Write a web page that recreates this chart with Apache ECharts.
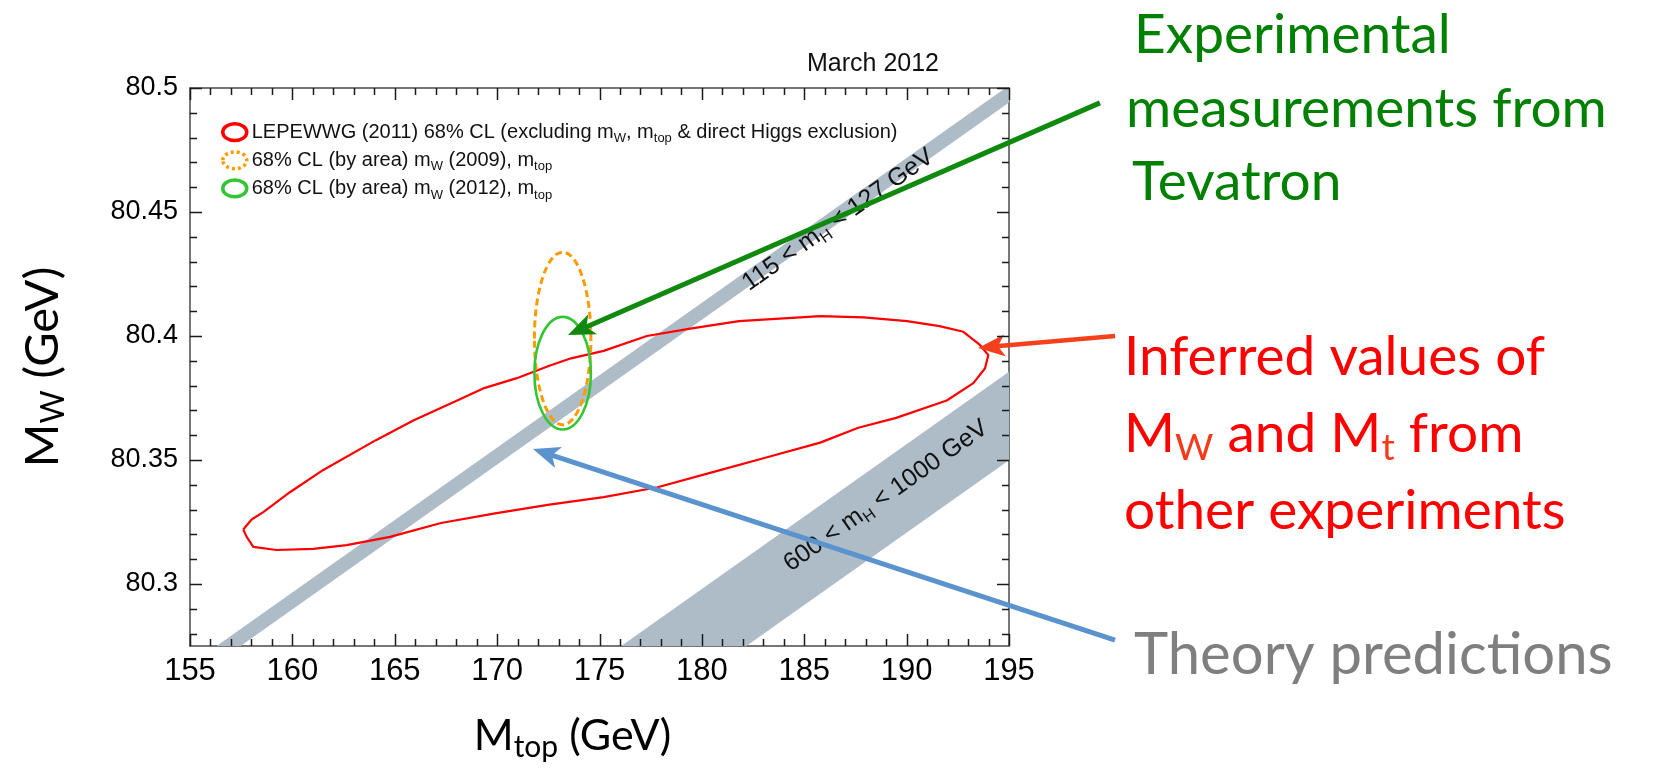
<!DOCTYPE html>
<html><head><meta charset="utf-8">
<script src="https://cdn.jsdelivr.net/npm/echarts@6/dist/echarts.min.js"></script>
<style>html,body{margin:0;padding:0;background:#fff}#c{position:absolute;left:0;top:0;width:1662px;height:770px}</style>
</head><body><div id="c"></div>
<script>
// ---------------- data ----------------
const X_MIN = 155, X_MAX = 195;
const Y_MIN = 80.275, Y_MAX = 80.5;
const xMajorTicks = [155, 160, 165, 170, 175, 180, 185, 190, 195];
const xMinorTicks = [156, 157, 158, 159, 161, 162, 163, 164, 166, 167, 168, 169, 171, 172, 173, 174,
                     176, 177, 178, 179, 181, 182, 183, 184, 186, 187, 188, 189, 191, 192, 193, 194];
const yMajorTicks = [80.3, 80.35, 80.4, 80.45, 80.5];
const yMinorTicks = [80.28, 80.29, 80.31, 80.32, 80.33, 80.34, 80.36, 80.37, 80.38, 80.39,
                     80.41, 80.42, 80.43, 80.44, 80.46, 80.47, 80.48, 80.49];

// LEPEWWG (2011) 68% CL contour (closed), mt and MW
const lepMt = [157.60,158.01,158.58,159.88,161.51,164.08,165.93,168.05,169.37,170.96,172.55,173.61,
               175.20,177.31,179.43,181.81,185.78,187.90,190.02,191.61,192.77,193.58,193.99,193.83,
               193.26,191.96,189.49,187.64,185.78,183.14,180.49,177.84,175.20,172.55,169.90,167.26,
               164.77,162.65,161.02,159.23,158.09,157.77,157.60];
const lepMw = [80.322,80.326,80.329,80.337,80.346,80.358,80.366,80.374,80.379,80.383,80.388,80.391,
               80.394,80.400,80.403,80.406,80.408,80.4075,80.406,80.404,80.4017,80.3964,80.3923,80.387,
               80.381,80.374,80.367,80.363,80.357,80.351,80.345,80.339,80.335,80.332,80.3285,80.3246,
               80.319,80.3157,80.3142,80.3137,80.315,80.319,80.322];

// direct measurements: centre and 68% (by area) half axes
const mtCentre = 173.2, mtHalf = 1.38;
const mw2009 = 80.399, mw2009Half = 0.0348;
const mw2012 = 80.385, mw2012Half = 0.0227;

// SM prediction bands: mt of the two band edges at MW = 80.275, common slope dMW/dmt
const bandLightHiggs = [156.30, 157.47];   // 115 < mH < 127 GeV
const bandHeavyHiggs = [176.06, 182.17];   // 600 < mH < 1000 GeV
const bandSlope = 0.00584;

const seriesNames = [
  'LEPEWWG (2011) 68% CL (excluding mW, mtop & direct Higgs exclusion)',
  '68% CL (by area) mW (2009), mtop',
  '68% CL (by area) mW (2012), mtop'
];
const legendRich = [
  '{a|LEPEWWG (2011) 68% CL (excluding m}{s|W}{a|, m}{s|top}{a| & direct Higgs exclusion)}',
  '{a|68% CL (by area) m}{s|W}{a| (2009), m}{s|top}',
  '{a|68% CL (by area) m}{s|W}{a| (2012), m}{s|top}'
];
const bandLabels = ['{a|115 < m}{s|H}{a| < 127 GeV}', '{a|600 < m}{s|H}{a| < 1000 GeV}'];
const bandLabelAt = [[186.65, 80.4468], [188.99, 80.3355]];

// annotation arrows: tail (mt, MW) -> tip (mt, MW)
const arrowGreen = [199.44, 80.494, 173.46, 80.4004];
const arrowRed   = [200.18, 80.400, 193.49, 80.3952];
const arrowBlue  = [200.18, 80.2774, 171.75, 80.3544];

// ---------------- chart ----------------
const HELV = 'Liberation Sans, Arial, Helvetica, sans-serif';
const CAL = 'Lato, Open Sans, sans-serif';
const BAND_COLOR = '#adbcc7';
const FRAME = '#4a4a4a';
const TICK = '#1a1a1a';
const arrowStyles = [{color: '#0f8a0f', width: 5}, {color: '#f5401c', width: 4.5}, {color: '#5b93cf', width: 5}];

const yAxes = [
  {
    type: 'value', min: Y_MIN, max: Y_MAX, position: 'left',
    splitLine: {show: false}, axisTick: {show: false},
    axisLine: {show: true, lineStyle: {color: FRAME, width: 1.5}},
    axisLabel: {show: true, customValues: yMajorTicks, formatter: v => String(v),
                fontSize: 27, fontFamily: HELV, color: '#000', margin: 12},
    name: '{a|M}{s|W}{a| (GeV)}', nameLocation: 'middle', nameRotate: 90, nameGap: 120,
    nameTextStyle: {color: '#000', fontFamily: CAL, rich: {
      a: {fontSize: 47, lineHeight: 54, fontFamily: CAL, color: '#000'},
      s: {fontSize: 32, lineHeight: 18, verticalAlign: 'bottom', fontFamily: CAL, color: '#000'}
    }}
  },
  {
    type: 'value', min: Y_MIN, max: Y_MAX, position: 'right',
    splitLine: {show: false}, axisTick: {show: false}, axisLabel: {show: false},
    axisLine: {show: true, lineStyle: {color: FRAME, width: 1.5}}
  }
];
const xAxes = [
  {
    type: 'value', min: X_MIN, max: X_MAX, interval: 5, position: 'bottom',
    splitLine: {show: false}, axisTick: {show: false},
    axisLine: {show: true, lineStyle: {color: FRAME, width: 1.5}},
    axisLabel: {show: true, fontSize: 31, fontFamily: HELV, color: '#000', margin: 10},
    name: '{a|M}{s|top}{a| (GeV)}', nameLocation: 'middle', nameGap: 64,
    nameTextStyle: {color: '#000', fontFamily: CAL, padding: [0, 54, 0, 0], rich: {
      a: {fontSize: 43, lineHeight: 52, fontFamily: CAL, color: '#000'},
      s: {fontSize: 30, lineHeight: 18, verticalAlign: 'bottom', fontFamily: CAL, color: '#000'}
    }}
  },
  {
    type: 'value', min: X_MIN, max: X_MAX, interval: 5, position: 'top',
    splitLine: {show: false}, axisTick: {show: false}, axisLabel: {show: false},
    axisLine: {show: true, lineStyle: {color: FRAME, width: 1.5}}
  }
];

// inside ticks on all four sides, placed through the axis scales
function renderTicks(params, api) {
  const cs = params.coordSys;
  const L = cs.x, R = cs.x + cs.width, T = cs.y, B = cs.y + cs.height;
  const ch = [];
  const add = (x1, y1, x2, y2) => ch.push({type: 'line', shape: {x1, y1, x2, y2},
                                           style: {stroke: TICK, lineWidth: 1.5}});
  const xTick = (v, len) => { const x = Math.round(api.coord([v, Y_MIN])[0]) + 0.5; add(x, B, x, B - len); add(x, T, x, T + len); };
  const yTick = (v, len) => { const y = Math.round(api.coord([X_MIN, v])[1]) + 0.5; add(L, y, L + len, y); add(R, y, R - len, y); };
  xMajorTicks.forEach(v => xTick(v, 12));
  xMinorTicks.forEach(v => xTick(v, 7));
  yMajorTicks.forEach(v => yTick(v, 12));
  yMinorTicks.forEach(v => yTick(v, 7));
  return {type: 'group', children: ch};
}

const bands = [bandLightHiggs, bandHeavyHiggs];

function renderBand(params, api) {
  const e = bands[params.dataIndex];
  const dx = (Y_MAX - Y_MIN) / bandSlope;
  const pts = [[e[0], Y_MIN], [e[1], Y_MIN], [e[1] + dx, Y_MAX], [e[0] + dx, Y_MAX]].map(p => api.coord(p));
  const cs = params.coordSys;
  const p1 = api.coord([e[0], Y_MIN]);
  const p2 = api.coord([e[0] + 10, Y_MIN + 10 * bandSlope]);
  const ang = -Math.atan2(p2[1] - p1[1], p2[0] - p1[0]);
  const lp = api.coord(bandLabelAt[params.dataIndex]);
  return {type: 'group', children: [
    {type: 'polygon', shape: {points: pts}, style: {fill: BAND_COLOR},
     clipPath: {type: 'rect', shape: {x: cs.x, y: cs.y, width: cs.width, height: cs.height}}},
    {type: 'text', x: lp[0], y: lp[1], rotation: ang, z2: 5,
     style: {text: bandLabels[params.dataIndex], align: 'center', verticalAlign: 'middle', fill: '#111',
       rich: {a: {fontSize: 25, lineHeight: 30, fontFamily: HELV, fill: '#111'},
              s: {fontSize: 16, lineHeight: 14, verticalAlign: 'bottom', fontFamily: HELV, fill: '#111'}}}}
  ]};
}

function ellipseRenderer(color, dash, width) {
  return function (params, api) {
    const c = api.coord([api.value(0), api.value(1)]);
    const s = api.size([api.value(2), api.value(3)]);
    return {type: 'ellipse', shape: {cx: c[0], cy: c[1], rx: s[0], ry: s[1]},
            style: {fill: null, stroke: color, lineWidth: width, lineDash: dash}};
  };
}

function renderArrow(params, api) {
  const st = arrowStyles[params.dataIndex];
  const a = api.coord([api.value(0), api.value(1)]);
  const b = api.coord([api.value(2), api.value(3)]);
  const dx = b[0] - a[0], dy = b[1] - a[1];
  const len = Math.sqrt(dx * dx + dy * dy);
  const ux = dx / len, uy = dy / len;
  const hl = 27, hw = 11;
  const bx = b[0] - ux * hl, by = b[1] - uy * hl;
  const notch = [bx + ux * 7, by + uy * 7];
  return {type: 'group', children: [
    {type: 'line', shape: {x1: a[0], y1: a[1], x2: bx + ux * 9, y2: by + uy * 9},
     style: {stroke: st.color, lineWidth: st.width}},
    {type: 'polygon', shape: {points: [[b[0], b[1]], [bx - uy * hw, by + ux * hw], notch, [bx + uy * hw, by - ux * hw]]},
     style: {fill: st.color}}
  ]};
}

const ellipseIcon = 'path://M1,8A10,7 0 1,1 21,8A10,7 0 1,1 1,8Z';

const option = {
  animation: false,
  backgroundColor: '#fff',
  grid: {left: 190, right: 653, top: 88, bottom: 124, containLabel: false},
  title: {text: 'March 2012', right: 718, top: 47,
          textStyle: {fontSize: 25, fontWeight: 'normal', fontFamily: HELV, color: '#111'}},
  xAxis: xAxes,
  yAxis: yAxes,
  legend: {
    orient: 'vertical', left: 216, top: 117, itemWidth: 24, itemHeight: 18, itemGap: 5,
    selectedMode: false,
    data: [
      {name: seriesNames[0], icon: ellipseIcon, itemStyle: {color: 'rgba(0,0,0,0)', borderColor: '#ff0000', borderWidth: 3.5}},
      {name: seriesNames[1], icon: ellipseIcon, itemStyle: {color: 'rgba(0,0,0,0)', borderColor: '#ff9a00', borderWidth: 3.5, borderType: [3, 3]}},
      {name: seriesNames[2], icon: ellipseIcon, itemStyle: {color: 'rgba(0,0,0,0)', borderColor: '#33c633', borderWidth: 3.5}}
    ],
    formatter: n => legendRich[seriesNames.indexOf(n)],
    textStyle: {color: '#111', rich: {
      a: {fontSize: 20, lineHeight: 26, fontFamily: HELV, color: '#111'},
      s: {fontSize: 13, lineHeight: 8, verticalAlign: 'bottom', fontFamily: HELV, color: '#111'}
    }}
  },
  series: [
    {type: 'custom', name: 'SM bands', renderItem: renderBand, z: 1, silent: true,
     data: bands.map(b => [b[0], b[1]])},
    {type: 'line', name: seriesNames[0], z: 3, symbol: 'none', smooth: false,
     lineStyle: {color: '#ff0000', width: 2.2}, itemStyle: {color: '#ff0000'},
     data: lepMt.map((m, i) => [m, lepMw[i]])},
    {type: 'custom', name: seriesNames[1], z: 4, renderItem: ellipseRenderer('#ff9a00', [7, 4], 3),
     itemStyle: {color: '#ff9a00'}, data: [[mtCentre, mw2009, mtHalf, mw2009Half]]},
    {type: 'custom', name: seriesNames[2], z: 5, renderItem: ellipseRenderer('#33c633', null, 2.6),
     itemStyle: {color: '#33c633'}, data: [[mtCentre, mw2012, mtHalf, mw2012Half]]},
    {type: 'custom', name: 'axis ticks', zlevel: 1, z: 8, silent: true, renderItem: renderTicks,
     data: [[X_MIN, Y_MIN]]},
    {type: 'custom', name: 'annotations', z: 10, silent: true, clip: false, renderItem: renderArrow,
     data: [arrowGreen, arrowRed, arrowBlue]}
  ],
  graphic: [
    {type: 'text', x: 1134, y: 35, z: 20, style: {text: 'Experimental', font: '55px ' + CAL, fill: '#008000', verticalAlign: 'middle'}},
    {type: 'text', x: 1126, y: 109, z: 20, style: {text: 'measurements from', font: '55px ' + CAL, fill: '#008000', verticalAlign: 'middle'}},
    {type: 'text', x: 1132, y: 182, z: 20, style: {text: 'Tevatron', font: '55px ' + CAL, fill: '#008000', verticalAlign: 'middle'}},
    {type: 'text', x: 1124, y: 357, z: 20, style: {text: 'Inferred values of', font: '55px ' + CAL, fill: '#ff0000', verticalAlign: 'middle'}},
    {type: 'text', x: 1124, y: 434, z: 20, style: {text: '{a|M}{s|W}{a| and M}{s|t}{a| from}', verticalAlign: 'middle',
      rich: {a: {fontSize: 55, lineHeight: 66, fontFamily: CAL, fill: '#ff0000'},
             s: {fontSize: 37, lineHeight: 29, verticalAlign: 'bottom', fontFamily: CAL, fill: '#f53a1a'}}}},
    {type: 'text', x: 1124, y: 511, z: 20, style: {text: 'other experiments', font: '55px ' + CAL, fill: '#ff0000', verticalAlign: 'middle'}},
    {type: 'text', x: 1134, y: 655, z: 20, style: {text: 'Theory predictions', font: '58px ' + CAL, fill: '#7f7f7f', verticalAlign: 'middle'}}
  ]
};
echarts.init(document.getElementById('c')).setOption(option);
</script>
</body></html>
